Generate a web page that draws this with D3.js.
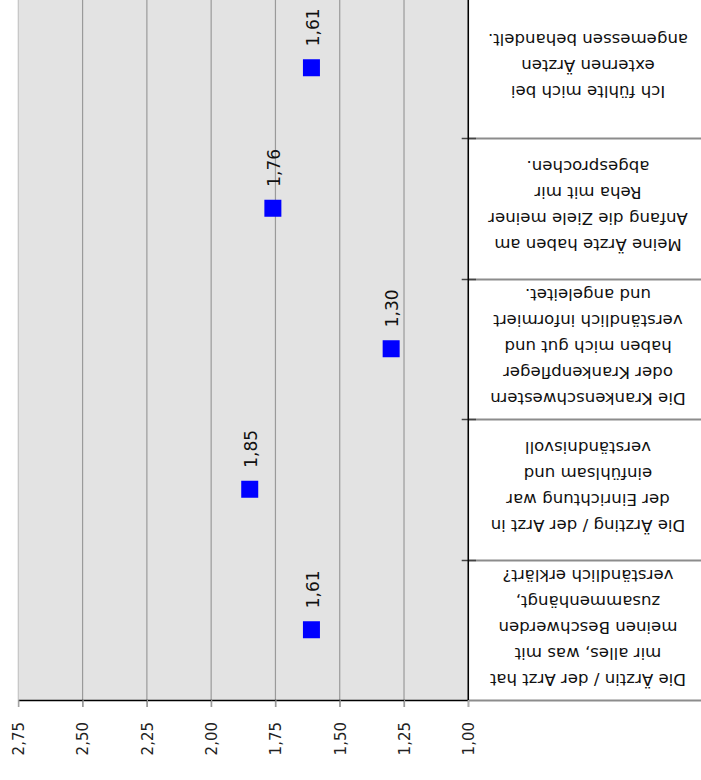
<!DOCTYPE html>
<html><head><meta charset="utf-8">
<script src="https://cdn.jsdelivr.net/npm/d3@7"></script>
<style>body{margin:0;background:#fff}svg{display:block}</style>
</head><body>
<svg id="c" width="701" height="780"></svg>
<script>
const categories = [
  "Die Ärztin / der Arzt hat\nmir alles, was mit\nmeinen Beschwerden\nzusammenhängt,\nverständlich erklärt?",
  "Die Ärzting / der Arzt in\nder Einrichtung war\neinfühlsam und\nverständnisvoll",
  "Die Krankenschwestern\noder Krankenpfleger\nhaben mich gut und\nverständlich informiert\nund angeleitet.",
  "Meine Ärzte haben am\nAnfang die Ziele meiner\nReha mit mir\nabgesprochen.",
  "Ich fühlte mich bei\nexternen Ärzten\nangemessen behandelt."
];
const values = [1.61, 1.85, 1.30, 1.76, 1.61];
const tickValues = [1.00, 1.25, 1.50, 1.75, 2.00, 2.25, 2.50, 2.75];

const svg = d3.select("#c");
const plotL = 18.3, plotR = 468.3, plotT = -2.5, plotB = 700;
const x = d3.scaleLinear().domain([1, 2.75]).range([plotR, plotL]);
const y = d3.scaleBand().domain(categories).range([plotB, plotT]);
const loc = d3.formatLocale({decimal: ",", thousands: ".", grouping: [3], currency: ["", "€"]});
const fmt = loc.format(".2f");

// plot background
svg.append("rect").attr("x", plotL).attr("y", plotT).attr("width", plotR - plotL).attr("height", plotB - plotT).attr("fill", "#e3e3e3");

// category separators across the label column
const bounds = categories.map(c => y(c)).concat([plotB]);
svg.append("g").selectAll("line").data(bounds).join("line")
  .attr("x1", plotR).attr("x2", 701)
  .attr("y1", d => Math.round(d) + 0.5).attr("y2", d => Math.round(d) + 0.5)
  .attr("stroke", "#8c8c8c").attr("stroke-width", 2);

// gridlines
svg.append("g").selectAll("line").data(tickValues).join("line")
  .attr("x1", d => x(d)).attr("x2", d => x(d))
  .attr("y1", plotT).attr("y2", plotB + 7)
  .attr("stroke", d => d === 2.75 ? "#c4c4c4" : "#9a9a9a").attr("stroke-width", 1.2);

// x axis
const xa = svg.append("g").attr("transform", `translate(0,${plotB})`)
  .call(d3.axisBottom(x).tickValues(tickValues).tickFormat(fmt).tickSize(7).tickSizeOuter(0));
xa.select(".domain").attr("stroke", "#000").attr("stroke-width", 1.5);
xa.selectAll(".tick line").attr("stroke", "#9a9a9a").attr("stroke-width", 1.2);
xa.selectAll(".tick text")
  .attr("transform", "rotate(-90)").attr("text-anchor", "end")
  .attr("x", -22).attr("y", 0).attr("dy", "0.36em")
  .attr("font-family", "DejaVu Sans").attr("font-size", 15).attr("fill", "#222");

// category ticks
svg.append("g").selectAll("line").data(categories).join("line")
  .attr("x1", 461.7).attr("x2", 476).attr("y1", d => Math.round(y(d)) + 0.5).attr("y2", d => Math.round(y(d)) + 0.5)
  .attr("stroke", "#444").attr("stroke-width", 1.5);
// category axis line
svg.append("line").attr("x1", plotR).attr("x2", plotR).attr("y1", plotT).attr("y2", plotB)
  .attr("stroke", "#000").attr("stroke-width", 1.5);
svg.append("line").attr("x1", plotR).attr("x2", plotR).attr("y1", plotB).attr("y2", plotB + 7)
  .attr("stroke", "#b0b0b0").attr("stroke-width", 1.2);

// category labels (upside down)
const lh = 26;
const cg = svg.append("g").selectAll("g").data(categories).join("g")
  .attr("transform", d => `translate(588,${y(d) + y.bandwidth() / 2 - 2}) rotate(180)`);
cg.each(function(d) {
  const lines = d.split("\n");
  const t = d3.select(this).append("text")
    .attr("text-anchor", "middle").attr("font-family", "DejaVu Sans")
    .attr("font-size", 16.6).attr("fill", "#111");
  lines.forEach((ln, i) => {
    t.append("tspan").attr("x", 0)
      .attr("y", (i - (lines.length - 1) / 2) * lh).attr("dy", "0.35em").text(ln);
  });
});

// points
const pts = categories.map((c, i) => ({c, v: values[i]}));
const sz = 17;
svg.append("g").selectAll("rect").data(pts).join("rect")
  .attr("x", d => x(d.v) - sz / 2).attr("y", d => y(d.c) + y.bandwidth() / 2 - sz / 2)
  .attr("width", sz).attr("height", sz).attr("fill", "#0000ff");

// value labels
svg.append("g").selectAll("text").data(pts).join("text")
  .attr("transform", d => `translate(${x(d.v) + 1},${y(d.c) + y.bandwidth() / 2 - 21.5}) rotate(-90)`)
  .attr("text-anchor", "start").attr("dy", "0.36em")
  .attr("font-family", "DejaVu Sans").attr("font-size", 17).attr("fill", "#111")
  .text(d => fmt(d.v));
</script>
</body></html>
